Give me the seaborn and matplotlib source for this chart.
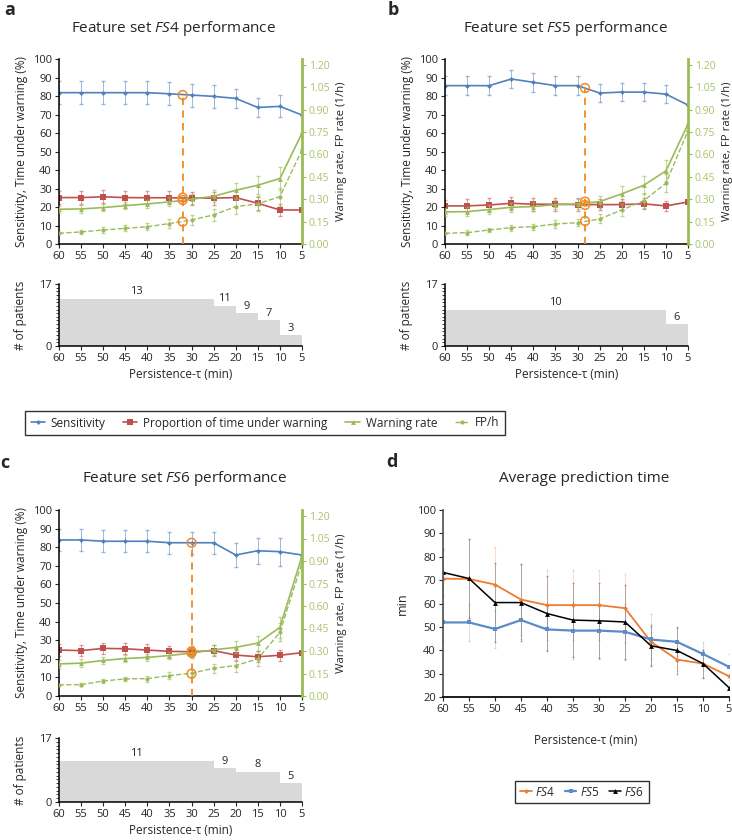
import matplotlib
matplotlib.use("Agg")
import matplotlib.pyplot as plt
from matplotlib.lines import Line2D
from matplotlib.ticker import MultipleLocator, FormatStrFormatter
import seaborn as sns

sns.set_theme(style="ticks")
plt.rcParams['font.family'] = ['Open Sans', 'DejaVu Sans']
plt.rcParams['mathtext.fontset'] = 'custom'
plt.rcParams['mathtext.rm'] = 'Open Sans'
plt.rcParams['mathtext.it'] = 'Open Sans:italic'

BLUE = '#4F81BD'
RED = '#C0504D'
GREEN = '#9BBB59'
GREEN_TXT = '#A6C46A'
HL = '#F08A24'
D_ORANGE = '#ED7D31'
D_BLUE = '#5B8BC9'
GRAY = '#D9D9D9'

tau = [60, 55, 50, 45, 40, 35, 30, 25, 20, 15, 10, 5]

# ---- FS4 ----
fs4_sens = [81.8, 81.8, 81.8, 81.8, 81.8, 81.2, 80.5, 79.8, 78.7, 73.8, 74.4, 69.7]
fs4_sens_err = [6.3, 6.3, 6.3, 6.3, 6.3, 6.3, 6.2, 6.2, 5.0, 5.0, 6.0, 0.0]
fs4_prop = [25.1, 25.1, 25.5, 25.1, 25.0, 25.0, 24.8, 24.8, 25.1, 22.0, 18.4, 18.4]
fs4_prop_err = [3.5, 3.5, 3.5, 3.5, 3.5, 3.5, 3.5, 3.5, 0.0, 3.5, 3.0, 0.0]
fs4_warn = [0.233, 0.235, 0.244, 0.257, 0.269, 0.282, 0.300, 0.320, 0.360, 0.394, 0.439, 0.743]
fs4_warn_err = [0.025, 0.025, 0.025, 0.025, 0.025, 0.03, 0.035, 0.04, 0.05, 0.06, 0.08, 0.0]
fs4_fp = [0.072, 0.081, 0.094, 0.105, 0.116, 0.137, 0.161, 0.195, 0.251, 0.269, 0.318, 0.631]
fs4_fp_err = [0.0, 0.015, 0.02, 0.02, 0.025, 0.03, 0.035, 0.04, 0.05, 0.05, 0.06, 0.0]
fs4_steps = [60, 25, 20, 15, 10, 5]
fs4_counts = [13, 11, 9, 7, 3]
fs4_hl_x = 32
fs4_hl_y = [80.5, 25.1, 23.8, 12.1]

# ---- FS5 ----
fs5_sens = [85.6, 85.6, 85.6, 89.2, 87.4, 85.6, 85.6, 81.6, 82.1, 82.1, 81.0, 75.1]
fs5_sens_err = [5.0, 5.0, 5.0, 5.0, 5.0, 5.0, 5.0, 5.0, 5.0, 5.0, 5.0, 0.0]
fs5_prop = [20.6, 20.6, 21.1, 22.0, 21.5, 21.5, 21.3, 21.3, 21.3, 21.7, 20.6, 22.7]
fs5_prop_err = [3.0, 3.5, 3.5, 3.5, 3.5, 3.5, 3.5, 3.0, 3.0, 3.0, 2.5, 0.0]
fs5_warn = [0.215, 0.217, 0.231, 0.246, 0.251, 0.264, 0.269, 0.284, 0.336, 0.394, 0.490, 0.804]
fs5_warn_err = [0.025, 0.03, 0.03, 0.03, 0.03, 0.03, 0.035, 0.04, 0.05, 0.06, 0.07, 0.0]
fs5_fp = [0.072, 0.076, 0.094, 0.110, 0.116, 0.134, 0.143, 0.168, 0.228, 0.291, 0.407, 0.759]
fs5_fp_err = [0.0, 0.015, 0.015, 0.02, 0.02, 0.025, 0.025, 0.03, 0.04, 0.05, 0.06, 0.0]
fs5_steps = [60, 10, 5]
fs5_counts = [10, 6]
fs5_hl_x = 28.3
fs5_hl_y = [84.3, 22.9, 21.1, 12.4]

# ---- FS6 ----
fs6_sens = [83.9, 83.9, 83.2, 83.2, 83.2, 82.4, 82.4, 82.4, 75.8, 78.1, 77.6, 75.8]
fs6_sens_err = [6.0, 6.0, 6.0, 6.0, 6.0, 6.0, 6.0, 6.0, 6.5, 7.0, 7.5, 0.0]
fs6_prop = [24.7, 24.4, 25.6, 25.4, 24.7, 24.0, 23.8, 24.4, 22.0, 21.1, 21.9, 23.3]
fs6_prop_err = [3.0, 3.0, 3.0, 3.0, 3.0, 3.0, 3.0, 3.0, 3.0, 3.0, 3.0, 0.0]
fs6_warn = [0.214, 0.219, 0.237, 0.250, 0.257, 0.270, 0.286, 0.308, 0.324, 0.353, 0.458, 0.933]
fs6_warn_err = [0.025, 0.025, 0.025, 0.025, 0.025, 0.025, 0.03, 0.035, 0.04, 0.05, 0.07, 0.0]
fs6_fp = [0.074, 0.076, 0.100, 0.114, 0.116, 0.136, 0.152, 0.185, 0.203, 0.248, 0.424, 0.888]
fs6_fp_err = [0.0, 0.012, 0.015, 0.015, 0.02, 0.025, 0.025, 0.03, 0.04, 0.05, 0.06, 0.0]
fs6_steps = [60, 25, 20, 10, 5]
fs6_counts = [11, 9, 8, 5]
fs6_hl_x = 30
fs6_hl_y = [82.4, 24.0, 23.2, 12.0]

# ---- Average prediction time ----
apt_fs4 = [70.6, 70.5, 68.1, 61.7, 59.3, 59.3, 59.3, 58.0, 43.6, 36.0, 34.3, 28.9]
apt_fs4_err = [12, 17, 16, 15, 15, 15, 15, 14.7, 7.5, 5, 6, 5]
apt_fs5 = [51.9, 51.9, 49.1, 52.9, 48.9, 48.4, 48.4, 47.9, 44.6, 43.6, 38.4, 32.9]
apt_fs5_err = [8, 8, 8, 8, 9, 12, 12, 12, 11, 6, 5, 5.5]
apt_fs6 = [73.3, 70.7, 60.4, 60.4, 55.7, 52.9, 52.6, 52.1, 41.9, 39.9, 34.3, 24.0]
apt_fs6_err = [10, 17, 17, 16.5, 16, 16, 16, 16, 8.5, 10, 6, 5]

W, H = 732, 840
fig = plt.figure(figsize=(W / 100, H / 100), dpi=100)


def box(left, top, right, bottom):
    return [left / W, 1 - bottom / H, (right - left) / W, (bottom - top) / H]


def style_x(ax):
    ax.set_xlim(60, 5)
    ax.set_xticks(tau)
    ax.tick_params(axis='x', labelsize=8, length=3, width=0.8, pad=2)


def perf_panel(main_box, bottom_box, sens, sens_err, prop, prop_err, warn, warn_err,
               fp, fp_err, steps, counts, hl_x, hl_y):
    ax = fig.add_axes(box(*main_box))
    sns.lineplot(x=tau, y=sens, ax=ax, color=BLUE, marker='D', markersize=2.5,
                 markeredgewidth=0, linewidth=1.2, sort=False)
    ax.errorbar(tau, sens, yerr=sens_err, fmt='none', ecolor=BLUE, elinewidth=0.7,
                capsize=1.5, alpha=0.55)
    sns.lineplot(x=tau, y=prop, ax=ax, color=RED, marker='s', markersize=4,
                 markeredgewidth=0, linewidth=1.2, sort=False)
    ax.errorbar(tau, prop, yerr=prop_err, fmt='none', ecolor=RED, elinewidth=0.7,
                capsize=1.5, alpha=0.55)
    ax.set_ylim(0, 100)
    ax.set_yticks(range(0, 101, 10))
    ax.tick_params(axis='y', labelsize=8, length=3, width=0.8, pad=2)
    style_x(ax)
    ax.set_ylabel('Sensitivity, Time under warning (%)', fontsize=8.5)
    ax.yaxis.set_label_coords(-0.128, 0.5)
    for s in ['top', 'right']:
        ax.spines[s].set_visible(False)
    for s in ['left', 'bottom']:
        ax.spines[s].set_color('black')
        ax.spines[s].set_linewidth(1.1)

    ax2 = ax.twinx()
    sns.lineplot(x=tau, y=warn, ax=ax2, color=GREEN, marker='^', markersize=3.5,
                 markeredgewidth=0, linewidth=1.2, sort=False)
    ax2.errorbar(tau, warn, yerr=warn_err, fmt='none', ecolor=GREEN, elinewidth=0.7,
                 capsize=1.5, alpha=0.6)
    sns.lineplot(x=tau, y=fp, ax=ax2, color=GREEN, marker='o', markersize=3,
                 markeredgewidth=0, linewidth=1.0, linestyle='--', sort=False)
    ax2.errorbar(tau, fp, yerr=fp_err, fmt='none', ecolor=GREEN, elinewidth=0.7,
                 capsize=1.5, alpha=0.6)
    ax2.set_ylim(0, 1.24)
    ax2.set_yticks([i * 0.15 for i in range(9)])
    ax2.yaxis.set_major_formatter(FormatStrFormatter('%.2f'))
    ax2.tick_params(axis='y', labelsize=7.5, length=3, width=0.8, colors=GREEN,
                    labelcolor=GREEN_TXT, pad=2)
    ax2.set_ylabel('Warning rate, FP rate (1/h)', fontsize=8.2)
    ax2.yaxis.set_label_coords(1.14, 0.5)
    for s in ['top', 'left', 'bottom']:
        ax2.spines[s].set_visible(False)
    ax2.spines['right'].set_color(GREEN)
    ax2.spines['right'].set_linewidth(2)
    ax2.set_xlim(60, 5)

    # operating point highlight
    ax2.plot([hl_x, hl_x], [0, hl_y[0] * 1.24 / 100], color=HL, linestyle=(0, (4, 3)),
             linewidth=1.3, zorder=5)
    ax2.scatter([hl_x] * len(hl_y), [v * 1.24 / 100 for v in hl_y], s=40,
                facecolors='none', edgecolors=HL, linewidths=1.1, zorder=6)

    bx = fig.add_axes(box(*bottom_box))
    bx.fill_between(steps, counts + [counts[-1]], step='post', color=GRAY, linewidth=0)
    for i, c in enumerate(counts):
        bx.text((steps[i] + steps[i + 1]) / 2, c + 0.4, str(c), ha='center',
                va='bottom', fontsize=8)
    bx.set_ylim(0, 17)
    bx.set_yticks([0, 17])
    bx.yaxis.set_minor_locator(MultipleLocator(1))
    bx.tick_params(axis='y', which='major', labelsize=8, length=3, width=0.8, pad=2)
    bx.tick_params(axis='y', which='minor', length=2, width=0.6)
    style_x(bx)
    bx.set_ylabel('# of patients', fontsize=8.5, labelpad=9)
    bx.set_xlabel('Persistence-τ (min)', fontsize=8.5, labelpad=3)
    for s in ['top', 'right']:
        bx.spines[s].set_visible(False)
    for s in ['left', 'bottom']:
        bx.spines[s].set_color('black')
        bx.spines[s].set_linewidth(1.1)


perf_panel((59, 59, 302, 244), (59, 284, 302, 346), fs4_sens, fs4_sens_err, fs4_prop,
           fs4_prop_err, fs4_warn, fs4_warn_err, fs4_fp, fs4_fp_err, fs4_steps,
           fs4_counts, fs4_hl_x, fs4_hl_y)
perf_panel((445, 59, 688, 244), (445, 284, 688, 346), fs5_sens, fs5_sens_err, fs5_prop,
           fs5_prop_err, fs5_warn, fs5_warn_err, fs5_fp, fs5_fp_err, fs5_steps,
           fs5_counts, fs5_hl_x, fs5_hl_y)
perf_panel((59, 510, 302, 696), (59, 738, 302, 802), fs6_sens, fs6_sens_err, fs6_prop,
           fs6_prop_err, fs6_warn, fs6_warn_err, fs6_fp, fs6_fp_err, fs6_steps,
           fs6_counts, fs6_hl_x, fs6_hl_y)

# panel d
dx = fig.add_axes(box(443, 510, 729, 697))
for vals, err, col in [(apt_fs4, apt_fs4_err, D_ORANGE),
                       (apt_fs5, apt_fs5_err, D_BLUE),
                       (apt_fs6, apt_fs6_err, 'black')]:
    dx.errorbar(tau, vals, yerr=err, fmt='none', ecolor=col, elinewidth=0.6,
                capsize=1, alpha=0.3)
for vals, col, mk, ms, lw in [(apt_fs4, D_ORANGE, 'D', 2.5, 1.3),
                              (apt_fs5, D_BLUE, 's', 3.5, 1.6),
                              (apt_fs6, 'black', '^', 3.5, 1.1)]:
    sns.lineplot(x=tau, y=vals, ax=dx, color=col, marker=mk, markersize=ms,
                 markeredgewidth=0, linewidth=lw, sort=False)
dx.set_ylim(20, 100)
dx.set_yticks(range(20, 101, 10))
dx.tick_params(axis='y', labelsize=8, length=3, width=0.8, pad=2)
style_x(dx)
dx.set_ylabel('min', fontsize=9, labelpad=6)
dx.set_xlabel('Persistence-τ (min)', fontsize=8.5, labelpad=14)
for s in ['top', 'right']:
    dx.spines[s].set_visible(False)
dx.spines['left'].set_color('#555555')
dx.spines['bottom'].set_color('black')

# titles and panel letters
fig.text(174 / W, 1 - 28 / H, r'Feature set $\mathit{FS}$4 performance', ha='center', va='center', fontsize=11)
fig.text(566 / W, 1 - 28 / H, r'Feature set $\mathit{FS}$5 performance', ha='center', va='center', fontsize=11)
fig.text(185 / W, 1 - 478 / H, r'Feature set $\mathit{FS}$6 performance', ha='center', va='center', fontsize=11)
fig.text(584 / W, 1 - 479 / H, 'Average prediction time', ha='center', va='center', fontsize=11)
for lbl, x, y in [('a', 10, 10), ('b', 393, 10), ('c', 5, 463), ('d', 392, 462)]:
    fig.text(x / W, 1 - y / H, lbl, ha='center', va='center', fontsize=13, fontweight='bold')

# shared legend
handles = [
    Line2D([], [], color=BLUE, marker='D', markersize=2.5, markeredgewidth=0, lw=1.2),
    Line2D([], [], color=RED, marker='s', markersize=4, markeredgewidth=0, lw=1.2),
    Line2D([], [], color=GREEN, marker='^', markersize=3.5, markeredgewidth=0, lw=1.2),
    Line2D([], [], color=GREEN, marker='o', markersize=3, markeredgewidth=0, lw=1.0, ls='--'),
]
leg = fig.legend(handles, ['Sensitivity', 'Proportion of time under warning', 'Warning rate', 'FP/h'],
                 loc='center', bbox_to_anchor=(265 / W, 1 - 423 / H), ncol=4, fontsize=8.5,
                 frameon=True, fancybox=False, edgecolor='black', handlelength=1.2,
                 handletextpad=0.5, columnspacing=1.5, borderpad=0.5)
leg.get_frame().set_linewidth(1.0)

d_handles = [
    Line2D([], [], color=D_ORANGE, marker='D', markersize=2.5, markeredgewidth=0, lw=1.3),
    Line2D([], [], color=D_BLUE, marker='s', markersize=3.5, markeredgewidth=0, lw=1.6),
    Line2D([], [], color='black', marker='^', markersize=3.5, markeredgewidth=0, lw=1.1),
]
leg2 = fig.legend(d_handles, [r'$\mathit{FS}$4', r'$\mathit{FS}$5', r'$\mathit{FS}$6'],
                  loc='center', bbox_to_anchor=(582 / W, 1 - 792 / H), ncol=3, fontsize=8.5,
                  frameon=True, fancybox=False, edgecolor='black', handlelength=1.0,
                  handletextpad=0.3, columnspacing=0.8, borderpad=0.4)
leg2.get_frame().set_linewidth(1.0)

fig.savefig('out.png', dpi=100)
